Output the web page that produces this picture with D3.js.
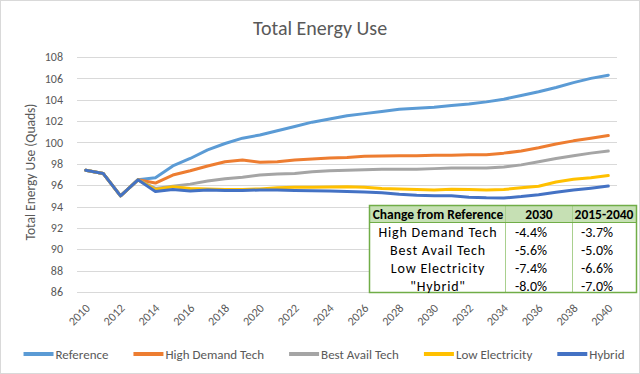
<!DOCTYPE html>
<html>
<head>
<meta charset="utf-8">
<script src="https://cdn.jsdelivr.net/npm/d3@7"></script>
<style>
  html, body { margin: 0; padding: 0; background: #fff; }
  svg { display: block; font-family: Carlito, Calibri, Lato, sans-serif; }
</style>
</head>
<body>
<svg id="chart" width="640" height="374"></svg>
<script>
// categories
const years = [2010, 2011, 2012, 2013, 2014, 2015, 2016, 2017, 2018, 2019, 2020,
               2021, 2022, 2023, 2024, 2025, 2026, 2027, 2028, 2029, 2030,
               2031, 2032, 2033, 2034, 2035, 2036, 2037, 2038, 2039, 2040];
const yearLabels = [2010, 2012, 2014, 2016, 2018, 2020, 2022, 2024, 2026, 2028,
                    2030, 2032, 2034, 2036, 2038, 2040];
const yTicks = [86, 88, 90, 92, 94, 96, 98, 100, 102, 104, 106, 108];

// series values (Quads)
const reference  = [97.4, 97.1, 95.0, 96.5, 96.7, 97.8, 98.5, 99.3, 99.9, 100.4, 100.7,
                    101.1, 101.5, 101.9, 102.2, 102.5, 102.7, 102.9, 103.1, 103.2, 103.3,
                    103.45, 103.6, 103.8, 104.05, 104.4, 104.75, 105.15, 105.6, 106.0, 106.3];
const highDemand = [97.4, 97.1, 95.0, 96.5, 96.2, 96.95, 97.35, 97.8, 98.2, 98.35, 98.15,
                    98.2, 98.35, 98.45, 98.55, 98.6, 98.7, 98.73, 98.76, 98.76, 98.8,
                    98.8, 98.85, 98.85, 99.0, 99.2, 99.5, 99.85, 100.15, 100.4, 100.65];
const bestAvail  = [97.4, 97.1, 95.0, 96.5, 95.7, 95.9, 96.1, 96.4, 96.6, 96.75, 96.95,
                    97.05, 97.1, 97.25, 97.35, 97.4, 97.45, 97.5, 97.5, 97.5, 97.55,
                    97.6, 97.62, 97.62, 97.7, 97.9, 98.2, 98.5, 98.75, 99.0, 99.2];
const lowElec    = [97.4, 97.1, 95.0, 96.5, 95.6, 95.85, 95.7, 95.65, 95.6, 95.6, 95.65,
                    95.75, 95.8, 95.8, 95.82, 95.85, 95.8, 95.7, 95.65, 95.6, 95.55,
                    95.62, 95.6, 95.55, 95.6, 95.75, 95.9, 96.3, 96.55, 96.7, 96.9];
const hybrid     = [97.4, 97.1, 95.0, 96.5, 95.4, 95.6, 95.45, 95.55, 95.5, 95.5, 95.55,
                    95.55, 95.5, 95.47, 95.46, 95.42, 95.36, 95.3, 95.15, 95.05, 95.0,
                    95.0, 94.88, 94.82, 94.8, 94.93, 95.1, 95.33, 95.55, 95.72, 95.92];

const seriesNames  = ["Reference", "High Demand Tech", "Best Avail Tech", "Low Electricity", "Hybrid"];
const seriesValues = [reference, highDemand, bestAvail, lowElec, hybrid];
const seriesColors = ["#5b9bd5", "#ed7d31", "#a5a5a5", "#ffc000", "#4472c4"];

// inset table
const tableHeader = ["Change from Reference", "2030", "2015-2040"];
const tableRows   = ["High Demand Tech", "Best Avail Tech", "Low Electricity", "\"Hybrid\""];
const change2030  = ["-4.4%", "-5.6%", "-7.4%", "-8.0%"];
const change1540  = ["-3.7%", "-5.0%", "-6.6%", "-7.0%"];

const svg = d3.select("#chart");
const W = 640, H = 374;
const textColor = "#595959";

// outer border
svg.append("rect")
    .attr("x", 0.5).attr("y", 0.5)
    .attr("width", W - 1).attr("height", H - 1)
    .attr("fill", "#fff")
    .attr("stroke", "#d9d9d9");

// scales
const x = d3.scalePoint()
    .domain(years)
    .range([77, 617])
    .padding(0.5);
const y = d3.scaleLinear()
    .domain([86, 108])
    .range([292, 57]);

// gridlines
svg.append("g")
  .selectAll("line")
  .data(yTicks)
  .join("line")
    .attr("x1", 77).attr("x2", 617)
    .attr("y1", d => Math.round(y(d)) + 0.5)
    .attr("y2", d => Math.round(y(d)) + 0.5)
    .attr("stroke", "#d9d9d9")
    .attr("stroke-width", 1);

// y axis labels
svg.append("g")
  .selectAll("text")
  .data(yTicks)
  .join("text")
    .attr("x", 63)
    .attr("y", d => y(d))
    .attr("dy", "0.35em")
    .attr("text-anchor", "end")
    .attr("font-size", 12)
    .attr("fill", textColor)
    .text(d => d);

// x axis labels, rotated
svg.append("g")
  .selectAll("text")
  .data(yearLabels)
  .join("text")
    .attr("text-anchor", "end")
    .attr("font-size", 12)
    .attr("fill", textColor)
    .attr("transform", d => `translate(${x(d) + 5},${309}) rotate(-45)`)
    .text(d => d);

// title
svg.append("text")
    .attr("x", 320).attr("y", 35)
    .attr("text-anchor", "middle")
    .attr("font-size", 20)
    .attr("fill", textColor)
    .text("Total Energy Use");

// y axis title
svg.append("text")
    .attr("transform", "translate(35,172) rotate(-90)")
    .attr("text-anchor", "middle")
    .attr("font-size", 13.5)
    .attr("fill", textColor)
    .text("Total Energy Use (Quads)");

// lines
const line = d3.line()
    .x((d, i) => x(years[i]))
    .y(d => y(d));

svg.append("g")
  .selectAll("path")
  .data(seriesValues)
  .join("path")
    .attr("fill", "none")
    .attr("stroke", (d, i) => seriesColors[i])
    .attr("stroke-width", 3)
    .attr("stroke-linejoin", "round")
    .attr("stroke-linecap", "round")
    .attr("d", line);

// inset table
const tX = 369, tY = 205, tW = 268, tH = 88, headH = 17;
const colX = [tX, 505, 572, tX + tW];
const table = svg.append("g");

table.append("rect")
    .attr("x", tX).attr("y", tY).attr("width", tW).attr("height", tH)
    .attr("fill", "#fff");
table.append("rect")
    .attr("x", tX).attr("y", tY).attr("width", tW).attr("height", headH)
    .attr("fill", "#c6e0b4");

// column dividers
table.selectAll("line.col")
  .data([colX[1], colX[2]])
  .join("line")
    .attr("x1", d => d + 0.5).attr("x2", d => d + 0.5)
    .attr("y1", tY).attr("y2", tY + tH)
    .attr("stroke", "#a9d08e");
table.append("line")
    .attr("x1", tX).attr("x2", tX + tW)
    .attr("y1", tY + headH + 0.5).attr("y2", tY + headH + 0.5)
    .attr("stroke", "#70ad47");
table.append("rect")
    .attr("x", tX + 0.5).attr("y", tY + 0.5).attr("width", tW - 1).attr("height", tH - 1)
    .attr("fill", "none")
    .attr("stroke", "#70ad47")
    .attr("stroke-width", 1.5);

const headCx = [438, 539, 604];
table.selectAll("text.head")
  .data(tableHeader)
  .join("text")
    .attr("x", (d, i) => headCx[i])
    .attr("y", tY + headH / 2 + 1)
    .attr("dy", "0.35em")
    .attr("text-anchor", "middle")
    .attr("font-size", 13.5)
    .attr("font-weight", "bold")
    .attr("fill", "#000")
    .text(d => d);

const rowY = i => tY + headH + 10 + i * 18;
table.selectAll("text.name")
  .data(tableRows)
  .join("text")
    .attr("x", 438)
    .attr("y", (d, i) => rowY(i))
    .attr("dy", "0.35em")
    .attr("text-anchor", "middle")
    .attr("font-size", 14)
    .attr("letter-spacing", 0.8)
    .attr("fill", "#000")
    .text(d => d);
table.selectAll("text.v1")
  .data(change2030)
  .join("text")
    .attr("x", 531)
    .attr("y", (d, i) => rowY(i))
    .attr("dy", "0.35em")
    .attr("text-anchor", "middle")
    .attr("font-size", 14)
    .attr("fill", "#000")
    .text(d => d);
table.selectAll("text.v2")
  .data(change1540)
  .join("text")
    .attr("x", 597)
    .attr("y", (d, i) => rowY(i))
    .attr("dy", "0.35em")
    .attr("text-anchor", "middle")
    .attr("font-size", 14)
    .attr("fill", "#000")
    .text(d => d);

// legend
const legend = svg.append("g");
const items = legend.selectAll("g")
  .data(seriesNames)
  .join("g");
items.append("line")
    .attr("x1", 0).attr("x2", 30)
    .attr("y1", 0).attr("y2", 0)
    .attr("stroke", (d, i) => seriesColors[i])
    .attr("stroke-width", 4);
items.append("text")
    .attr("x", 32)
    .attr("dy", "0.35em")
    .attr("font-size", 13)
    .attr("fill", textColor)
    .text(d => d);

let offsets = [], pos = 0;
const gap = 25;
items.each(function () {
  offsets.push(pos);
  pos += 32 + this.querySelector("text").getComputedTextLength() + gap;
});
const total = pos - gap;
const startX = 324 - total / 2;
items.attr("transform", (d, i) => `translate(${startX + offsets[i]},354)`);
</script>
</body>
</html>
